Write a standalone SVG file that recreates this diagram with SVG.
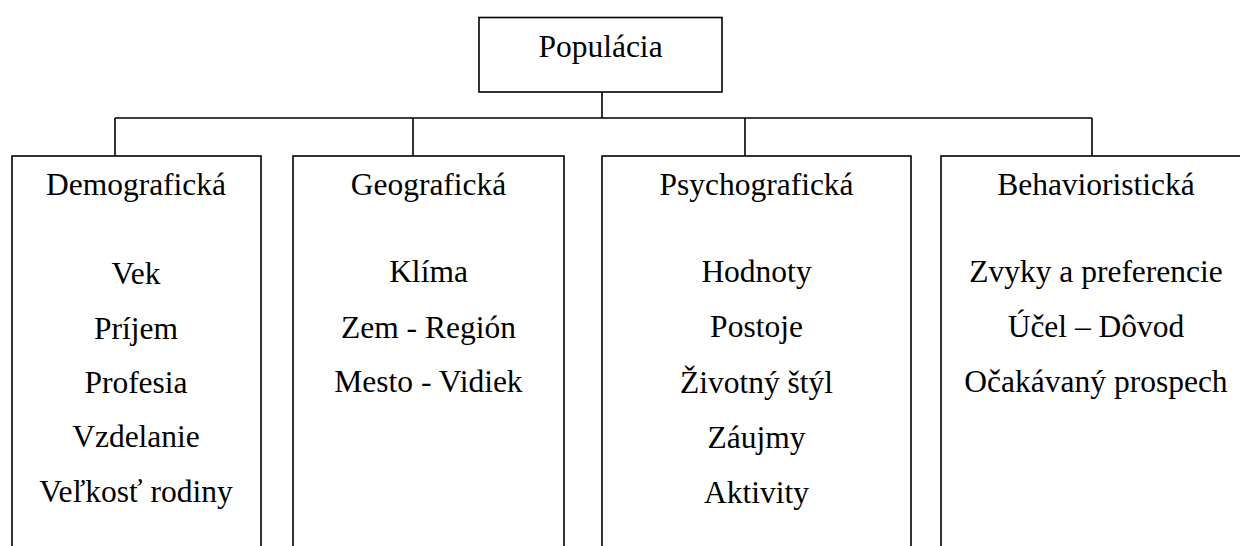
<svg xmlns="http://www.w3.org/2000/svg" width="1240" height="546" viewBox="0 0 1240 546">
<style>
.box{fill:#fff;stroke:#000;stroke-width:1.6}
.ln{fill:none;stroke:#000;stroke-width:1.6}
.t{font-family:'Liberation Serif','Times New Roman',serif;font-size:31.5px;fill:#000;text-anchor:middle}
</style>
<rect width="1240" height="546" fill="#fff"/>
<g id="connectors">
<path class="ln" d="M602 92V118M115 118H1092M115 118V156M413 118V156M745 118V156M1092 118V156"/>
</g>
<g id="root" class="t">
<rect class="box" x="479" y="17.5" width="243" height="74.5"/>
<text x="600.5" y="57">Populácia</text>
</g>
<g id="demograficka" class="t">
<rect class="box" x="12" y="156" width="249" height="420"/>
<text x="136" y="195">Demografická</text>
<text x="136" y="284">Vek</text>
<text x="136" y="339">Príjem</text>
<text x="136" y="393">Profesia</text>
<text x="136" y="447">Vzdelanie</text>
<text x="136" y="502">Veľkosť rodiny</text>
</g>
<g id="geograficka" class="t">
<rect class="box" x="293" y="156" width="271" height="420"/>
<text x="428.5" y="195">Geografická</text>
<text x="428.5" y="282">Klíma</text>
<text x="428.5" y="338">Zem - Región</text>
<text x="428.5" y="392">Mesto - Vidiek</text>
</g>
<g id="psychograficka" class="t">
<rect class="box" x="602" y="156" width="309" height="420"/>
<text x="756.5" y="195">Psychografická</text>
<text x="756.5" y="282">Hodnoty</text>
<text x="756.5" y="337">Postoje</text>
<text x="756.5" y="393">Životný štýl</text>
<text x="756.5" y="448">Záujmy</text>
<text x="756.5" y="503">Aktivity</text>
</g>
<g id="behavioristicka" class="t">
<rect class="box" x="941" y="156" width="320" height="420"/>
<text x="1096" y="195">Behavioristická</text>
<text x="1096" y="282">Zvyky a preferencie</text>
<text x="1096" y="337">Účel – Dôvod</text>
<text x="1096" y="392">Očakávaný prospech</text>
</g>
</svg>
